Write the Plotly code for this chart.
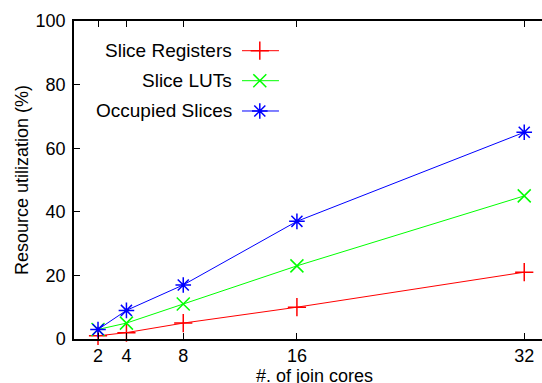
import plotly.graph_objects as go

cores = [2, 4, 8, 16, 32]
slice_registers = [1, 2, 5, 10, 21]
slice_luts = [3, 5, 11, 23, 45]
occupied_slices = [3, 9, 17, 37, 65]

series_names = ["Slice Registers", "Slice LUTs", "Occupied Slices"]
series_values = [slice_registers, slice_luts, occupied_slices]
series_colors = ["#ff0000", "#00ff00", "#0000ff"]
series_symbols = ["cross-thin-open", "x-thin-open", "asterisk-open"]

x_ticks = [2, 4, 8, 16, 32]
y_ticks = [0, 20, 40, 60, 80, 100]

FONT = "Liberation Sans, Arial, Helvetica, sans-serif"

fig = go.Figure()
for name, vals, col, sym in zip(series_names, series_values, series_colors, series_symbols):
    fig.add_trace(go.Scatter(
        x=cores, y=vals, mode="lines+markers", name=name,
        line=dict(color=col, width=1),
        marker=dict(symbol=sym, size=13, color=col, line=dict(color=col, width=1.5)),
        showlegend=False, cliponaxis=False,
    ))

# manual legend (text on the left, sample on the right) on a hidden overlay axis
leg_y = [0.9066, 0.8123, 0.717]
for name, col, sym, ly in zip(series_names, series_colors, series_symbols, leg_y):
    fig.add_trace(go.Scatter(
        x=[0.359, 0.438], y=[ly, ly], mode="lines", xaxis="x2", yaxis="y2",
        line=dict(color=col, width=1), showlegend=False, hoverinfo="skip",
    ))
    fig.add_trace(go.Scatter(
        x=[0.397], y=[ly], mode="markers", xaxis="x2", yaxis="y2",
        marker=dict(symbol=sym, size=13, color=col, line=dict(color=col, width=1.5)),
        showlegend=False, hoverinfo="skip",
    ))
    fig.add_annotation(
        x=0.342, y=ly, xref="paper", yref="paper", text=name, showarrow=False,
        xanchor="right", yanchor="middle", font=dict(family=FONT, size=19, color="black"),
    )

fig.add_annotation(
    x=0.513, y=-0.117, xref="paper", yref="paper", text="#. of join cores",
    showarrow=False, xanchor="center", yanchor="middle",
    font=dict(family=FONT, size=18, color="black"),
)

fig.update_layout(
    width=542, height=383,
    margin=dict(l=74, r=0, t=21, b=44),
    paper_bgcolor="white", plot_bgcolor="white",
    font=dict(family=FONT, size=18, color="black"),
    xaxis=dict(
        range=[0.31, 33.25], tickmode="array", tickvals=x_ticks,
        ticktext=[str(v) for v in x_ticks],
        showline=True, linecolor="black", linewidth=1.5, mirror="ticks",
        ticks="inside", ticklen=6, tickwidth=1, tickcolor="black",
        showgrid=False, zeroline=False,
    ),
    yaxis=dict(
        range=[0, 100], tickmode="array", tickvals=y_ticks,
        showline=True, linecolor="black", linewidth=1.5, mirror=False,
        ticks="inside", ticklen=6, tickwidth=1, tickcolor="black",
        showgrid=False, zeroline=False, ticklabelstandoff=3,
        title=dict(text="Resource utilization (%)", standoff=2,
                   font=dict(family=FONT, size=18)),
    ),
    xaxis2=dict(overlaying="x", range=[0, 1], visible=False, fixedrange=True),
    yaxis2=dict(overlaying="y", range=[0, 1], visible=False, fixedrange=True),
)

fig.write_html("out.html")
